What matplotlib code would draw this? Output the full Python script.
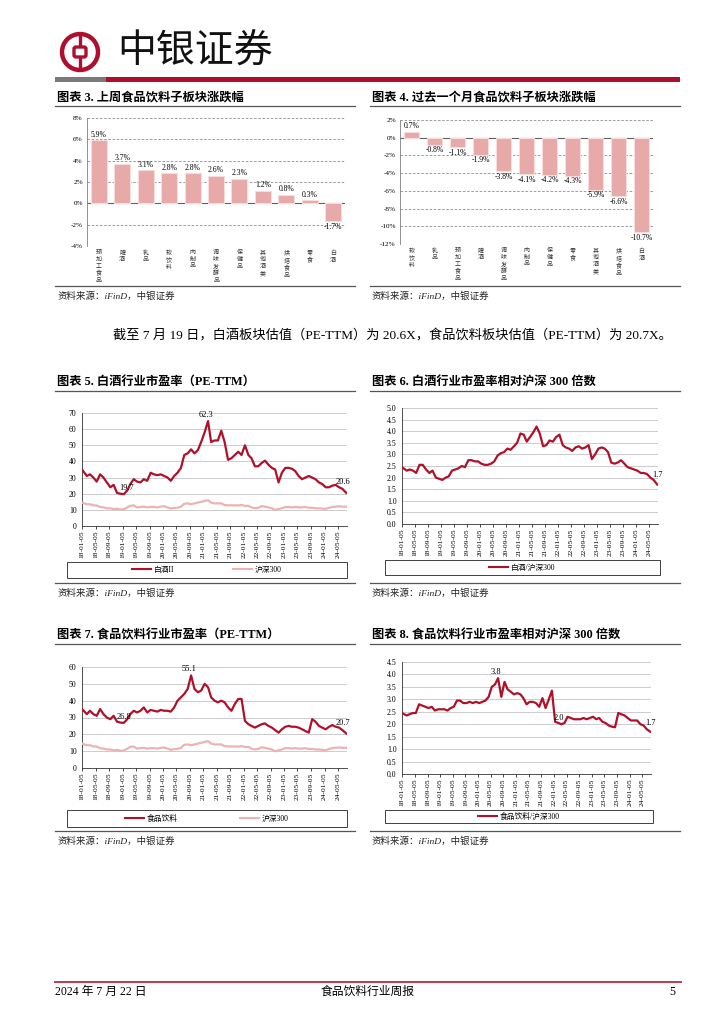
import matplotlib
matplotlib.use('Agg')
import matplotlib.pyplot as plt
from matplotlib.patches import Circle, Rectangle, FancyBboxPatch
from matplotlib.lines import Line2D
import numpy as np
import pandas as pd

plt.rcParams['font.family'] = ['Liberation Serif', 'Noto Sans CJK SC']
plt.rcParams['axes.unicode_minus'] = False

W, H = 724, 1024
RED = '#AE0F2E'
LINE_RED = '#B0112A'
PINK = '#EBB3B3'
BAR = '#E8A9A9'

# ---------------- data ----------------
wk_names = ['预加工食品', '啤酒', '乳品', '软饮料', '肉制品', '调味发酵品',
            '保健品', '其他酒类', '烘焙食品', '零食', '白酒']
wk_chg = [5.9, 3.7, 3.1, 2.8, 2.8, 2.6, 2.3, 1.2, 0.8, 0.3, -1.7]

mo_names = ['软饮料', '乳品', '预加工食品', '啤酒', '调味发酵品', '肉制品',
            '保健品', '零食', '其他酒类', '烘焙食品', '白酒']
mo_chg = [0.7, -0.8, -1.1, -1.9, -3.8, -4.1, -4.2, -4.3, -5.9, -6.6, -10.7]

# monthly readings, 2018-01 .. 2024-07
months = list(pd.date_range('2018-01-01', '2024-07-01', freq='MS') + pd.Timedelta(days=14))
months[0] = pd.Timestamp('2018-01-02')
months[-1] = pd.Timestamp('2024-07-19')

baijiu_pe = [35, 31, 32, 30, 27.5, 32, 30, 27, 24, 25.5, 20.5, 20,
             19.7, 22, 26, 29, 27.5, 27, 29, 28, 33, 32, 31.5, 32,
             31, 30, 28, 31, 33, 36, 44, 45, 47.5, 45, 47, 52,
             58, 65, 52, 53, 53, 59, 52, 41, 42, 44, 46, 44,
             50, 44, 42, 37, 37, 39, 40.5, 38, 36, 35, 27, 33,
             36, 36, 35.5, 34, 31, 29, 30, 31, 30, 29, 27, 26,
             24, 24, 25, 25.5, 24, 23, 20.5]

hs300_pe = [14.5, 13.5, 13.5, 12.8, 12.7, 11.8, 11.5, 11, 11, 10.5, 10.7, 10.3,
            10.3, 11.5, 12.5, 12.8, 11.5, 11.8, 12, 11.5, 11.8, 11.8, 11.5, 12,
            12.2, 11.5, 10.8, 11.2, 11.3, 12, 13.8, 14, 13.5, 14, 14.5, 15,
            15.5, 16, 14.5, 14, 14, 14, 13, 12.8, 12.8, 12.8, 12.7, 13,
            12.5, 12.5, 11.5, 11, 11.3, 12.3, 12, 11.5, 11, 10, 10.5, 11,
            11.8, 11.8, 11.5, 11.8, 11.5, 11.5, 11.8, 11.3, 11.3, 11, 11, 10.8,
            10.6, 11.3, 11.8, 12, 12.2, 12, 12]

baijiu_rel = [2.45, 2.3, 2.35, 2.3, 2.2, 2.55, 2.55, 2.35, 2.2, 2.3, 2.0, 1.95,
              1.9, 2.0, 2.05, 2.3, 2.35, 2.4, 2.5, 2.45, 2.75, 2.75, 2.7, 2.7,
              2.6, 2.55, 2.55, 2.6, 2.7, 2.95, 3.05, 3.1, 3.25, 3.2, 3.35, 3.5,
              3.9, 3.85, 3.55, 3.75, 3.95, 4.2, 3.9, 3.35, 3.4, 3.6, 3.55, 3.75,
              3.85, 3.4, 3.3, 3.25, 3.15, 3.3, 3.35, 3.25, 3.3, 3.4, 2.8, 3.0,
              3.25, 3.3, 3.25, 3.1, 2.65, 2.6, 2.65, 2.75, 2.6, 2.45, 2.4, 2.35,
              2.3, 2.2, 2.2, 2.15, 2.0, 1.9, 1.7]

fb_pe = [35, 32, 34, 32, 31, 35, 32, 30, 29, 31, 27.5, 27,
         26.8, 29, 32, 34, 33, 34, 36, 33, 34.5, 34, 33.5, 34.5,
         34, 34, 33.5, 36, 40, 42, 44, 47, 55, 47, 45, 46,
         50, 48, 42, 40, 39, 40, 39, 36, 34, 38, 41, 41,
         28, 26, 25, 24, 25, 26, 26.5, 25, 24, 22.5, 21, 23,
         24.5, 25, 24.5, 24.5, 24, 23, 22, 21, 29, 27.5, 25, 24,
         23, 24.5, 25.5, 24.5, 24, 22.5, 20.5]

fb_rel = [2.45, 2.35, 2.4, 2.45, 2.45, 2.8, 2.75, 2.7, 2.65, 2.7, 2.55, 2.6,
          2.6, 2.6, 2.55, 2.65, 2.7, 2.95, 2.95, 2.85, 2.85, 2.9, 2.85, 2.9,
          2.85, 2.9, 2.95, 3.1, 3.5, 3.6, 3.85, 3.1, 3.7, 3.4, 3.3, 3.2,
          3.25, 3.2, 3.05, 2.8, 2.9, 2.9, 2.85, 2.7, 3.05, 2.65, 3.0, 3.35,
          2.1, 2.05, 2.0, 2.05, 2.3, 2.25, 2.2, 2.2, 2.2, 2.25, 2.2, 2.25,
          2.3, 2.2, 2.25, 2.1, 2.05, 1.95, 1.9, 1.88, 2.45, 2.4, 2.35, 2.25,
          2.15, 2.15, 2.15, 2.0, 1.95, 1.8, 1.7]

xtick_dates = [pd.Timestamp(y, m, 5) for y in range(2018, 2025) for m in (1, 5, 9)]
xtick_dates = [d for d in xtick_dates if d <= pd.Timestamp('2024-05-05')]

# ---------------- page ----------------
fig = plt.figure(figsize=(W / 100, H / 100), dpi=100)
ov = fig.add_axes([0, 0, 1, 1])
ov.set_xlim(0, W)
ov.set_ylim(H, 0)
ov.axis('off')


def px_axes(x0, y0, x1, y1):
    return fig.add_axes([x0 / W, 1 - y1 / H, (x1 - x0) / W, (y1 - y0) / H])


# header logo
ov.add_patch(Circle((80, 52), 18, fill=False, ec=RED, lw=3.2))
ov.add_patch(FancyBboxPatch((74, 47), 12, 10, boxstyle='round,pad=0,rounding_size=2',
                            fill=False, ec=RED, lw=2.4))
ov.plot([80, 80], [34, 47], color=RED, lw=2.4, solid_capstyle='butt')
ov.plot([80, 80], [57, 70], color=RED, lw=2.4, solid_capstyle='butt')
ov.text(117, 52, '中银证券', fontsize=28, family=['Noto Sans CJK SC'],
        va='center', ha='left', color='#111111')
ov.add_patch(Rectangle((55, 77), 51, 5, color='#7A7A7A', lw=0))
ov.add_patch(Rectangle((106, 77), 574, 5, color=RED, lw=0))

# footer
ov.plot([55, 681], [982, 982], color='#C23A4C', lw=1.4)
ov.text(55, 992, '2024 年 7 月 22 日', fontsize=8.5, va='center', ha='left')
ov.text(368, 992, '食品饮料行业周报', fontsize=8.5, va='center', ha='center')
ov.text(675, 992, '5', fontsize=8.5, va='center', ha='right')

# paragraph
ov.text(113, 336, '截至 7 月 19 日，白酒板块估值（PE-TTM）为 20.6X，食品饮料板块估值（PE-TTM）为 20.7X。',
        fontsize=9.5, va='center', ha='left')


def frame(x0, x1, ty, ly, sy, title):
    ov.text(x0 + 2, ty, title, fontsize=8.8, fontweight='bold', va='center', ha='left')
    ov.plot([x0, x1], [ly, ly], color='#555555', lw=0.9)
    ov.plot([x0, x1], [sy, sy], color='#555555', lw=0.9)
    ov.text(x0 + 2, sy + 10, '资料来源：iFinD，中银证券', fontsize=6.8, style='italic',
            va='center', ha='left', color='#222222')


frame(55, 355, 98, 106, 286, '图表 3. 上周食品饮料子板块涨跌幅')
frame(370, 680, 98, 106, 286, '图表 4. 过去一个月食品饮料子板块涨跌幅')
frame(55, 355, 382, 391, 583, '图表 5. 白酒行业市盈率（PE-TTM）')
frame(370, 680, 382, 391, 583, '图表 6. 白酒行业市盈率相对沪深 300 倍数')
frame(55, 355, 635, 644, 831, '图表 7. 食品饮料行业市盈率（PE-TTM）')
frame(370, 680, 635, 644, 831, '图表 8. 食品饮料行业市盈率相对沪深 300 倍数')


def bar_chart(ax, names, vals, lo, hi):
    x = np.arange(len(names))
    ax.bar(x, vals, width=0.68, color=BAR, edgecolor='#F7DCDC', linewidth=0.8, zorder=3)
    off = (hi - lo) * 0.012
    for i, v in enumerate(vals):
        if v >= 0:
            ax.text(i, v + off, f'{v:.1f}%', ha='center', va='bottom', fontsize=5.5, zorder=4)
        else:
            ax.text(i, v - off, f'{v:.1f}%', ha='center', va='top', fontsize=5.5, zorder=4)
    ax.set_xlim(-0.5, len(names) - 0.5)
    ax.set_ylim(lo, hi)
    ticks = np.arange(lo, hi + 1, 2)
    ax.set_yticks(ticks)
    ax.set_yticklabels([f'{t:d}%' for t in ticks])
    ax.grid(axis='y', ls=(0, (3, 2)), color='#8C8C8C', lw=0.6, zorder=0)
    ax.axhline(0, color='#606060', lw=0.8, zorder=2)
    for s in ['top', 'right', 'bottom']:
        ax.spines[s].set_visible(False)
    ax.spines['left'].set_color('#808080')
    ax.spines['left'].set_linewidth(0.6)
    ax.set_xticks(x)
    ax.set_xticklabels(['\n'.join(n) for n in names], fontsize=4.3, linespacing=1.4,
                       color='#333333')
    ax.tick_params(axis='x', length=0, pad=3)
    ax.tick_params(axis='y', length=0, labelsize=5.2, pad=3)


ax3 = px_axes(87, 118, 345, 246)
bar_chart(ax3, wk_names, wk_chg, -4, 8)
ax4 = px_axes(400, 120, 653, 244)
bar_chart(ax4, mo_names, mo_chg, -12, 2)


def line_chart(ax, series, hi, step, fmt):
    for vals, color in series:
        ax.plot(months, vals, color=color, lw=1.6, zorder=3)
    ax.set_xlim(pd.Timestamp('2018-01-02'), pd.Timestamp('2024-07-26'))
    ax.set_ylim(0, hi)
    yt = np.arange(0, hi + step / 2, step)
    ax.set_yticks(yt)
    ax.set_yticklabels([fmt.format(v) for v in yt])
    ax.set_xticks(xtick_dates)
    ax.set_xticklabels([d.strftime('%y-%m-%d') for d in xtick_dates], rotation=90)
    ax.grid(axis='y', color='#C4C4C4', lw=0.6, zorder=0)
    for s in ['top', 'right']:
        ax.spines[s].set_visible(False)
    for s in ['left', 'bottom']:
        ax.spines[s].set_color('#333333')
        ax.spines[s].set_linewidth(0.6)
    ax.tick_params(axis='x', length=2, width=0.5, labelsize=5.4, pad=1.5)
    ax.tick_params(axis='y', length=0, labelsize=5.6, pad=4)


def legend_box(x0, y0, x1, y1, items, colspace):
    ov.add_patch(Rectangle((x0, y0), x1 - x0, y1 - y0, fill=False, ec='#404040', lw=0.7))
    handles = [Line2D([], [], color=c, lw=1.5) for c, _ in items]
    fig.legend(handles, [t for _, t in items], loc='center',
               bbox_to_anchor=((x0 + x1) / 2 / W, 1 - (y0 + y1) / 2 / H),
               ncol=len(items), frameon=False, fontsize=5.6, handlelength=2.4,
               handletextpad=0.4, columnspacing=colspace, borderpad=0)


ax5 = px_axes(82, 413, 347, 526)
line_chart(ax5, [(hs300_pe, PINK), (baijiu_pe, LINE_RED)], 70, 10, '{:.0f}')
ax5.text(pd.Timestamp('2021-01-25'), 66.5, '62.3', fontsize=6, ha='center', va='bottom')
ax5.text(pd.Timestamp('2019-02-10'), 21, '19.7', fontsize=6, ha='center', va='bottom')
ax5.text(pd.Timestamp('2024-06-20'), 24.5, '20.6', fontsize=6, ha='center', va='bottom')
legend_box(67, 562, 347, 578, [(LINE_RED, '白酒II'), (PINK, '沪深300')], 7.5)

ax6 = px_axes(402, 408, 658, 524)
line_chart(ax6, [(baijiu_rel, LINE_RED)], 5.0, 0.5, '{:.1f}')
ax6.text(pd.Timestamp('2024-07-20'), 1.95, '1.7', fontsize=6, ha='center', va='bottom')
legend_box(385, 560, 660, 575, [(LINE_RED, '白酒/沪深300')], 2)

ax7 = px_axes(82, 667, 347, 768)
line_chart(ax7, [(hs300_pe, PINK), (fb_pe, LINE_RED)], 60, 10, '{:.0f}')
ax7.text(pd.Timestamp('2020-08-25'), 56.5, '55.1', fontsize=6, ha='center', va='bottom')
ax7.text(pd.Timestamp('2019-01-20'), 28, '26.8', fontsize=6, ha='center', va='bottom')
ax7.text(pd.Timestamp('2024-06-20'), 24.5, '20.7', fontsize=6, ha='center', va='bottom')
legend_box(67, 810, 347, 827, [(LINE_RED, '食品饮料'), (PINK, '沪深300')], 8)

ax8 = px_axes(402, 662, 651, 774)
line_chart(ax8, [(fb_rel, LINE_RED)], 4.5, 0.5, '{:.1f}')
ax8.text(pd.Timestamp('2020-06-25'), 3.95, '3.8', fontsize=6, ha='center', va='bottom')
ax8.text(pd.Timestamp('2022-02-20'), 2.08, '2.0', fontsize=6, ha='center', va='bottom')
ax8.text(pd.Timestamp('2024-07-20'), 1.9, '1.7', fontsize=6, ha='center', va='bottom')
legend_box(385, 810, 653, 823, [(LINE_RED, '食品饮料/沪深300')], 2)

fig.savefig('out.png', dpi=100)
